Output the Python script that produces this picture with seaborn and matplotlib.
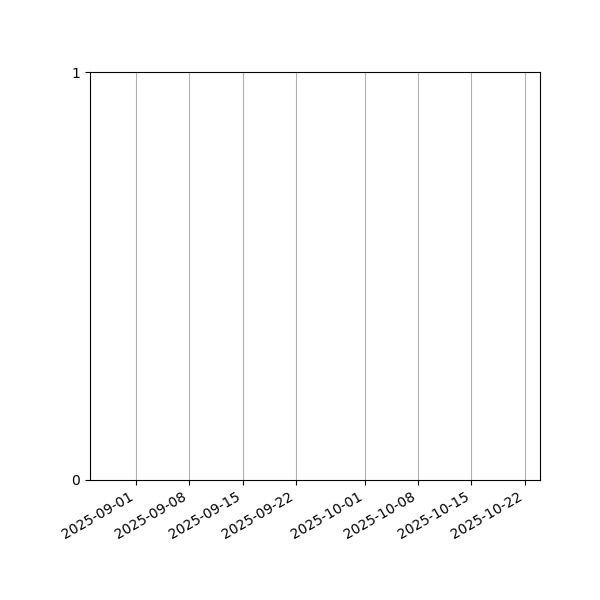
import pandas as pd
import numpy as np
import seaborn as sns
import matplotlib
matplotlib.use("Agg")
import matplotlib.pyplot as plt
import matplotlib.dates as mdates

# the series has no observations in this window, only the frame remains
dates = pd.to_datetime(["2025-08-26", "2025-10-24"])
values = [np.nan, np.nan]
y_ticks = [0, 1]

df = pd.DataFrame({"date": dates, "value": values})

fig, ax = plt.subplots(figsize=(6, 6), dpi=100)
sns.lineplot(x="date", y="value", data=df, ax=ax)

ax.set_xlim(dates[0], dates[-1])
ax.set_ylim(0, 1)
ax.set_yticks(y_ticks)
ax.xaxis.set_major_locator(mdates.DayLocator(bymonthday=[1, 8, 15, 22]))
ax.xaxis.set_major_formatter(mdates.DateFormatter("%Y-%m-%d"))
ax.grid(axis="x", color="#b0b0b0", linewidth=0.8)
ax.set_xlabel("")
ax.set_ylabel("")

fig.autofmt_xdate()
fig.subplots_adjust(left=0.15, right=0.9, top=0.88, bottom=0.2)
fig.savefig("out.png", dpi=100)
